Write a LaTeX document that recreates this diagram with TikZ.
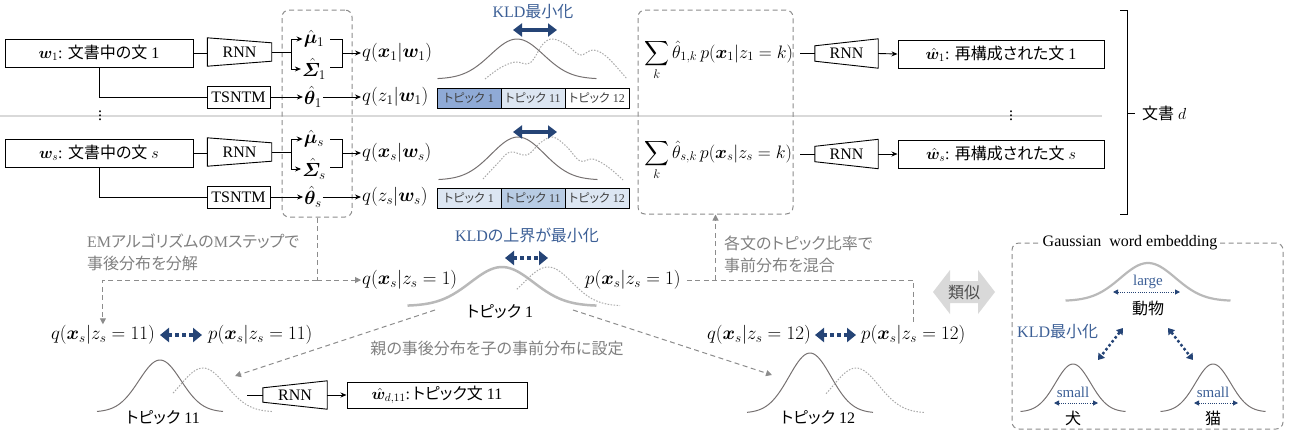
\RequirePackage{fix-cm}
\documentclass[tikz,border=0pt]{standalone}
\usepackage{amsmath,bm}
\usepackage{fontspec}
\setmainfont{Liberation Serif}
\newfontfamily\jp[RawFeature=+palt]{Noto Sans CJK JP}
\usetikzlibrary{arrows.meta,calc}
\definecolor{navy}{RGB}{37,68,118}
\definecolor{kblue}{RGB}{60,95,150}
\definecolor{gtext}{RGB}{128,128,128}
\definecolor{gline}{RGB}{140,140,140}
\definecolor{cdark}{RGB}{118,113,113}
\definecolor{clight}{RGB}{170,170,170}
\definecolor{cthick}{RGB}{185,185,185}
\definecolor{tdark}{RGB}{143,170,214}
\definecolor{tlight}{RGB}{220,230,242}
\definecolor{tmid}{RGB}{184,204,228}
\definecolor{sepc}{RGB}{217,217,217}
\definecolor{simc}{RGB}{217,217,217}
\tikzset{
 every node/.style={font=\fontsize{16}{19}\selectfont, inner sep=1pt},
 mth/.style={font=\fontsize{19}{22}\selectfont},
 smth/.style={font=\fontsize{18}{21}\selectfont},
 box/.style={draw, line width=1pt, minimum height=28pt, inner sep=2pt},
 trap/.style={minimum width=64pt, minimum height=28pt, inner sep=0pt},
 bar/.style={draw, line width=1pt, minimum width=64pt, minimum height=20pt, inner sep=0pt, text=black!75, font=\fontsize{12}{14}\selectfont},
 ln/.style={line width=0.9pt},
 arr/.style={-{Stealth[length=6pt,width=5pt]}, line width=0.9pt},
 garr/.style={gline, dash pattern=on 5pt off 3.5pt, line width=1pt, -{Triangle[length=6pt,width=6pt]}},
 gln/.style={gline, dash pattern=on 5pt off 3.5pt, line width=1pt},
 dbox/.style={draw=gline, dash pattern=on 5pt off 3.5pt, line width=1pt, rounded corners=7pt},
 kld/.style={navy, line width=4pt, {Triangle[length=9pt,width=13pt]}-{Triangle[length=9pt,width=13pt]}},
 kldd/.style={navy, line width=4pt, dash pattern=on 4pt off 3pt, {Triangle[length=9pt,width=14pt]}-{Triangle[length=9pt,width=14pt]}},
 kldm/.style={navy, line width=2.5pt, dash pattern=on 2.5pt off 2.5pt, {Triangle[length=6pt,width=8pt]}-{Triangle[length=6pt,width=8pt]}},
 klds/.style={navy, line width=1pt, dash pattern=on 1pt off 1.2pt, {Triangle[length=5pt,width=5pt]}-{Triangle[length=5pt,width=5pt]}},
 csolid/.style={cdark, line width=1pt},
 cdot/.style={clight, line width=1pt, dash pattern=on 1.5pt off 1.5pt},
 cthk/.style={cthick, line width=2.5pt},
 gtx/.style={text=gtext},
 bluetx/.style={text=kblue},
}
\begin{document}
\begin{tikzpicture}[x=1pt,y=-1pt]
\useasboundingbox (0,0) rectangle (1289,432);
% separator
\draw[sepc, line width=1.5pt] (0,116) -- (1102,116);
% dashed boxes
\node[dbox, minimum width=70pt, minimum height=207pt] (db1) at (317,113.5) {};
\node[dbox, minimum width=155pt, minimum height=204pt] (db2) at (715.5,112) {};

% ===== row 1 =====
\node[box, minimum width=188pt] (in1) at (99,53) {$\bm{w}_1$: {\jp 文書中の文} 1};
\node[trap] (enc1) at (239.5,52) {RNN};
\draw[ln] (enc1.north west) -- ([yshift=-5pt]enc1.north east) -- ([yshift=5pt]enc1.south east) -- (enc1.south west) -- cycle;
\draw[ln] (in1.east) -- (enc1.west |- in1.east);
\coordinate (j1) at (291,52);
\node[mth] (mu1) at (314,39) {$\hat{\bm{\mu}}_1$};
\node[mth] (sg1) at (314,69) {$\hat{\bm{\varSigma}}_1$};
\draw[ln] (enc1.east) -- (j1);
\draw[arr] (j1) |- (mu1.west);
\draw[arr] (j1) |- (sg1.west);
\coordinate (b1) at (342,53);
\draw[ln] (330,39) -- (342,39) -- (342,67) -- (330,67);
\node[mth, anchor=west] (qx1) at (361,53) {$q(\bm{x}_1|\bm{w}_1)$};
\draw[arr] (b1) -- (qx1.west);
\node[box, minimum width=63pt, minimum height=22pt] (ts1) at (238.5,97) {TSNTM};
\draw[ln] (in1.south) |- (ts1.west);
\node[mth] (th1) at (313,97) {$\hat{\bm{\theta}}_1$};
\draw[arr] (ts1.east) -- (th1.west);
\node[mth, anchor=west] (qz1) at (361,97) {$q(z_1|\bm{w}_1)$};
\draw[arr] (th1.east) -- (qz1.west);
\node (vd1) at (100,113) {$\vdots$};
% curves row 1
\draw[csolid] plot[domain=-3:3,samples=60,smooth] ({517+26.5*\x},{79-40*exp(-0.5*\x*\x)});
\draw[cdot] plot[smooth, tension=0.6] coordinates {(485,79) (500,68) (515,62) (530,63) (543,44) (553,39) (567,45) (580,55) (593,50) (607,57) (627,79)};
\coordinate (k1a) at (513,30); \coordinate (k1b) at (557,30);
\draw[kld] (k1a) -- (k1b);
\node[bluetx] (kl1) at (533,12) {KLD{\jp 最小化}};
% bars row 1
\node[bar, fill=tdark] (t11) at (469,98) {{\jp トピック} 1};
\node[bar, fill=tlight] (t12) at (533,98) {{\jp トピック} 11};
\node[bar, fill=white] (t13) at (597,98) {{\jp トピック} 12};
% decoder row 1
\node[smth, anchor=base west] (sum1) at (643,58) {$\displaystyle\sum_{k}\hat{\theta}_{1,k}\,p(\bm{x}_1|z_1=k)$};
\node[trap, minimum width=63pt, minimum height=29pt] (dec1) at (846.5,53.5) {RNN};
\draw[ln] (dec1.north east) -- (dec1.south east) -- ([yshift=7pt]dec1.south west) -- ([yshift=-7pt]dec1.north west) -- cycle;
\coordinate (s1e) at (800,53.5);
\draw[ln] (s1e) -- (dec1.west);
\node[box, minimum width=206pt] (out1) at (1001,54) {$\hat{\bm{w}}_1$: {\jp 再構成された文} 1};
\draw[arr] (dec1.east) -- (out1.west);

% ===== row s =====
\node[box, minimum width=188pt] (in2) at (99,153) {$\bm{w}_s$: {\jp 文書中の文} $s$};
\node[trap] (enc2) at (239.5,152) {RNN};
\draw[ln] (enc2.north west) -- ([yshift=-5pt]enc2.north east) -- ([yshift=5pt]enc2.south east) -- (enc2.south west) -- cycle;
\draw[ln] (in2.east) -- (enc2.west |- in2.east);
\coordinate (j2) at (291,152);
\node[mth] (mu2) at (314,139) {$\hat{\bm{\mu}}_s$};
\node[mth] (sg2) at (314,169) {$\hat{\bm{\varSigma}}_s$};
\draw[ln] (enc2.east) -- (j2);
\draw[arr] (j2) |- (mu2.west);
\draw[arr] (j2) |- (sg2.west);
\coordinate (b2) at (342,153);
\draw[ln] (330,139) -- (342,139) -- (342,167) -- (330,167);
\node[mth, anchor=west] (qx2) at (361,153) {$q(\bm{x}_s|\bm{w}_s)$};
\draw[arr] (b2) -- (qx2.west);
\node[box, minimum width=63pt, minimum height=22pt] (ts2) at (238.5,197) {TSNTM};
\draw[ln] (in2.south) |- (ts2.west);
\node[mth] (th2) at (313,197) {$\hat{\bm{\theta}}_s$};
\draw[arr] (ts2.east) -- (th2.west);
\node[mth, anchor=west] (qz2) at (361,197) {$q(z_s|\bm{w}_s)$};
\draw[arr] (th2.east) -- (qz2.west);
% curves row s
\draw[csolid] plot[domain=-3:3,samples=60,smooth] ({518+26.5*\x},{180-43*exp(-0.5*\x*\x)});
\draw[cdot] plot[smooth, tension=0.6] coordinates {(483,179) (498,163) (510,152) (527,155) (540,143) (553,137) (567,147) (580,161) (593,159) (608,167) (623,180)};
\coordinate (k2a) at (513,132); \coordinate (k2b) at (557,132);
\draw[kld] (k2a) -- (k2b);
% bars row s
\node[bar, fill=tlight] (t21) at (469,198) {{\jp トピック} 1};
\node[bar, fill=tmid] (t22) at (533,198) {{\jp トピック} 11};
\node[bar, fill=tlight] (t23) at (597,198) {{\jp トピック} 12};
% decoder row s
\node[smth, anchor=base west] (sum2) at (643,158) {$\displaystyle\sum_{k}\hat{\theta}_{s,k}\,p(\bm{x}_s|z_s=k)$};
\node[trap, minimum width=63pt, minimum height=29pt] (dec2) at (846.5,154) {RNN};
\draw[ln] (dec2.north east) -- (dec2.south east) -- ([yshift=7pt]dec2.south west) -- ([yshift=-7pt]dec2.north west) -- cycle;
\coordinate (s2e) at (800,154);
\draw[ln] (s2e) -- (dec2.west);
\node[box, minimum width=206pt] (out2) at (1001,154) {$\hat{\bm{w}}_s$: {\jp 再構成された文} $s$};
\draw[arr] (dec2.east) -- (out2.west);
\node (vd2) at (1011,113) {$\vdots$};

% document bracket
\draw[ln] (1120,10) -- (1127,10) -- (1127,214) -- (1120,214);
\draw[ln] (1127,113) -- (1135,113);
\node[anchor=west] (doc) at (1141,113) {{\jp 文書} $d$};

% ===== bottom =====
\node[gtx, anchor=north west, align=left, font=\fontsize{16}{22}\selectfont] (lab1) at (86,233) {EM{\jp アルゴリズムの}M{\jp ステップで}\\{\jp 事後分布を分解}};
\node[gtx, anchor=north west, align=left, font=\fontsize{16}{22}\selectfont] (lab2) at (723,235) {{\jp 各文のトピック比率で}\\{\jp 事前分布を混合}};

\node[mth, anchor=west] (qt1) at (361,280) {$q(\bm{x}_s|z_s=1)$};
\node[mth, anchor=west] (pt1) at (584,280) {$p(\bm{x}_s|z_s=1)$};
\node[mth, anchor=east] (q11) at (156,335) {$q(\bm{x}_s|z_s=11)$};
\node[mth, anchor=west] (p11) at (207,335) {$p(\bm{x}_s|z_s=11)$};
\node[mth, anchor=east] (q12) at (812,335) {$q(\bm{x}_s|z_s=12)$};
\node[mth, anchor=west] (p12) at (860,335) {$p(\bm{x}_s|z_s=12)$};

\coordinate (e1) at (317,280);
\draw[gln] (db1.south) -- (e1);
\draw[garr] (e1) -- (qt1.west);
\draw[garr] (e1) -| (q11.north);
\coordinate (m1) at (715.5,280);
\draw[gln, shorten <=5pt] (pt1.east) -| (p12.north);
\draw[garr] (m1) -- (db2.south);

\draw[kldd, shorten <=4pt, shorten >=5pt] (q11.east) -- (p11.west);
\draw[kldd, shorten <=3pt, shorten >=4pt] (q12.east) -- (p12.west);

% topic 1
\draw[cthk] plot[domain=-3:3,samples=60,smooth] ({502+31.5*\x},{306-39*exp(-0.5*\x*\x)});
\draw[cdot] plot[domain=-1.3:3,samples=50,smooth] ({548+24*\x},{306-39*exp(-0.5*\x*\x)});
\node (lt1) at (500,312) {{\jp トピック} 1};
\node[bluetx] (kl2) at (527,235) {KLD{\jp の上界が最小化}};
\coordinate (k3a) at (505,258); \coordinate (k3b) at (548,258);
\draw[kldd] (k3a) -- (k3b);

\coordinate (a1) at (435,310); \coordinate (a2) at (235,376);
\draw[garr] (a1) -- (a2);
\coordinate (a3) at (573,310); \coordinate (a4) at (772,375);
\draw[garr] (a3) -- (a4);
\node[gtx] (lab3) at (497,348) {{\jp 親の事後分布を子の事前分布に設定}};

% topic 11
\draw[csolid] plot[domain=-3:3,samples=60,smooth] ({160+21*\x},{412-52*exp(-0.5*\x*\x)});
\draw[cdot] plot[domain=-1.3:3,samples=50,smooth] ({203+23*\x},{412-44*exp(-0.5*\x*\x)});
\node (lt11) at (163,418) {{\jp トピック} 11};
\coordinate (c11) at (247,395);
\node[trap] (dec3) at (295,395) {RNN};
\draw[ln] (dec3.north east) -- (dec3.south east) -- ([yshift=7pt]dec3.south west) -- ([yshift=-7pt]dec3.north west) -- cycle;
\draw[ln] (c11) -- (dec3.west);
\node[box, minimum width=180pt, minimum height=26pt] (out3) at (437,395) {$\hat{\bm{w}}_{d,11}$:\,{\jp トピック文} 11};
\draw[arr] (dec3.east) -- (out3.west);

% topic 12
\draw[csolid] plot[domain=-3:3,samples=60,smooth] ({810+21*\x},{413-60*exp(-0.5*\x*\x)});
\draw[cdot] plot[domain=-1.3:3,samples=50,smooth] ({856+23*\x},{413-45*exp(-0.5*\x*\x)});
\node (lt12) at (818,418) {{\jp トピック} 12};

% similar arrow
\fill[simc] (933,292) -- (950,270) -- (950,281) -- (978,281) -- (978,270) -- (995,292) -- (978,314) -- (978,303) -- (950,303) -- (950,314) -- cycle;
\node[text=black!70] (sim) at (964,292) {{\jp 類似}};

% Gaussian word embedding
\node[dbox, minimum width=271pt, minimum height=186pt] (gwe) at (1147.5,336) {};
\node[fill=white, inner sep=3pt] (gwt) at (1130,243) {Gaussian\ \ word embedding};
\draw[cthk, line width=2.2pt] plot[domain=-3:3,samples=60,smooth] ({1148+27.5*\x},{301-38*exp(-0.5*\x*\x)});
\node[bluetx, font=\fontsize{15}{18}\selectfont] (lg) at (1148,282) {large};
\coordinate (ga) at (1113,292); \coordinate (gb) at (1180,292);
\draw[klds] (ga) -- (gb);
\node (animal) at (1148,308) {{\jp 動物}};
\node[bluetx, anchor=west] (kl3) at (1016,332) {KLD{\jp 最小化}};
\coordinate (d1a) at (1123,328); \coordinate (d1b) at (1098,360);
\draw[kldm] (d1a) -- (d1b);
\coordinate (d2a) at (1168,328); \coordinate (d2b) at (1193,360);
\draw[kldm] (d2a) -- (d2b);
\draw[csolid] plot[domain=-3:3,samples=60,smooth] ({1073+17.5*\x},{412-48*exp(-0.5*\x*\x)});
\node[bluetx, font=\fontsize{15}{18}\selectfont] (sm1) at (1073,392) {small};
\coordinate (ha) at (1054,403); \coordinate (hb) at (1098,403);
\draw[klds] (ha) -- (hb);
\node (dog) at (1073,418) {{\jp 犬}};
\draw[csolid] plot[domain=-3:3,samples=60,smooth] ({1213+17.5*\x},{412-48*exp(-0.5*\x*\x)});
\node[bluetx, font=\fontsize{15}{18}\selectfont] (sm2) at (1213,392) {small};
\coordinate (ia) at (1194,403); \coordinate (ib) at (1238,403);
\draw[klds] (ia) -- (ib);
\node (cat) at (1213,418) {{\jp 猫}};
\end{tikzpicture}
\end{document}
